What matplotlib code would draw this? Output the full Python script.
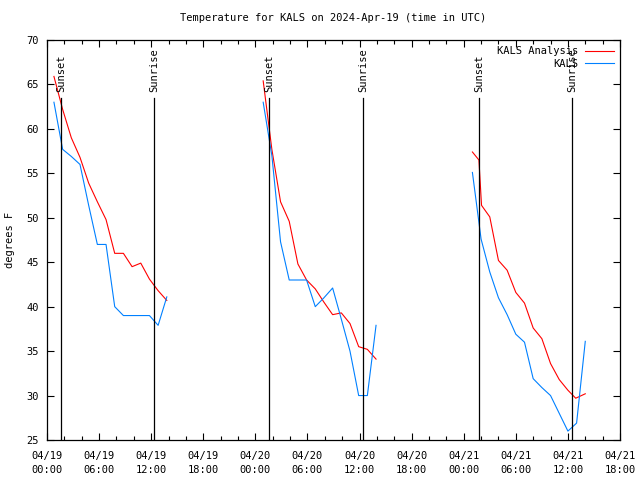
import pandas as pd
import numpy as np
import matplotlib.pyplot as plt
import matplotlib.dates as mdates

plt.rcParams['font.family'] = ['DejaVu Sans Mono']
plt.rcParams['font.size'] = 7

t0 = pd.Timestamp("2024-04-19 00:00")

# hours after 04/19 00:00 UTC, temperatures in deg F
ana_hours = [0.8, 1.8, 2.8, 3.8, 4.8, 5.8, 6.8, 7.8, 8.8, 9.8, 10.8, 11.8, 12.8, 13.8,
             24.9, 25.9, 26.9, 27.9, 28.9, 29.9, 30.9, 31.9, 32.9, 33.9, 34.9, 35.9, 36.9, 37.9,
             49.0, 49.75, 50.05, 51.0, 52.0, 53.0, 54.0, 55.0, 56.0, 57.0, 58.0, 59.0, 60.0, 60.9, 62.0]
ana_temp = [65.9, 62.2, 59.0, 56.8, 53.9, 51.8, 49.8, 46.0, 46.0, 44.5, 44.9, 43.1, 41.8, 40.7,
            65.4, 57.7, 51.8, 49.6, 44.8, 43.0, 42.0, 40.5, 39.1, 39.3, 38.1, 35.5, 35.2, 34.1,
            57.4, 56.5, 51.4, 50.1, 45.2, 44.1, 41.6, 40.4, 37.6, 36.4, 33.6, 31.8, 30.6, 29.7, 30.2]
ana_night = [0] * 14 + [1] * 14 + [2] * 15

obs_hours = [0.8, 1.8, 2.8, 3.8, 4.8, 5.8, 6.8, 7.8, 8.8, 9.8, 10.8, 11.8, 12.8, 13.8,
             24.9, 25.9, 26.9, 27.9, 28.9, 29.9, 30.9, 31.9, 32.9, 33.9, 34.9, 35.9, 36.9, 37.9,
             49.0, 50.0, 51.0, 52.0, 53.0, 54.0, 55.0, 56.0, 57.0, 58.0, 59.0, 60.0, 61.0, 62.0]
obs_temp = [63.0, 57.7, 56.9, 56.0, 51.4, 47.0, 47.0, 40.0, 39.0, 39.0, 39.0, 39.0, 37.9, 41.1,
            63.0, 57.0, 47.3, 43.0, 43.0, 43.0, 40.0, 41.0, 42.1, 38.6, 35.0, 30.0, 30.0, 37.9,
            55.1, 47.6, 43.9, 41.0, 39.1, 36.9, 36.0, 31.9, 30.9, 30.0, 28.0, 26.0, 26.9, 36.1]
obs_night = [0] * 14 + [1] * 14 + [2] * 14

sunset_hours = [1.6, 25.6, 49.8]
sunrise_hours = [12.35, 36.4, 60.45]


def to_time(h):
    return t0 + pd.to_timedelta(np.asarray(h), unit='h')


fig = plt.figure(figsize=(6.4, 4.8), dpi=100)
ax = fig.add_axes([47 / 640, 40 / 480, 573 / 640, 400 / 480])

ana = pd.DataFrame({'t': to_time(ana_hours), 'v': ana_temp, 'n': ana_night})
obs = pd.DataFrame({'t': to_time(obs_hours), 'v': obs_temp, 'n': obs_night})

for n, g in ana.groupby('n'):
    ax.plot(g['t'], g['v'], color='#ff0000', lw=0.8,
            label='KALS Analysis' if n == 0 else None)
for n, g in obs.groupby('n'):
    ax.plot(g['t'], g['v'], color='#0080ff', lw=0.8,
            label='KALS' if n == 0 else None)

for name, hrs in [('Sunset', sunset_hours), ('Sunrise', sunrise_hours)]:
    for t in to_time(hrs):
        ax.plot([t, t], [25, 63.5], color='black', lw=0.9)
        ax.text(t, 64.1, name, rotation=90, ha='center', va='bottom', fontsize=7.5)

ax.set_xlim(t0, t0 + pd.Timedelta(hours=66))
ax.set_ylim(25, 70)
ax.set_yticks(np.arange(25, 71, 5))
ax.xaxis.set_major_locator(mdates.HourLocator(byhour=range(0, 24, 6)))
ax.xaxis.set_minor_locator(mdates.HourLocator(byhour=range(0, 24, 2)))
ax.xaxis.set_major_formatter(mdates.DateFormatter('%m/%d\n%H:%M'))
ax.tick_params(which='both', direction='in', top=True, right=True, labelsize=7.5, pad=6)
ax.tick_params(axis='x', pad=8)
ax.tick_params(which='major', length=5, width=0.8)
ax.tick_params(which='minor', length=3, width=0.8)
for lab in ax.get_xticklabels():
    lab.set_linespacing(1.45)
for s in ax.spines.values():
    s.set_linewidth(0.9)

ax.set_ylabel('degrees F', fontsize=7.5, labelpad=8)
ax.set_title('Temperature for KALS on 2024-Apr-19 (time in UTC)', fontsize=7.5, pad=14)
ax.legend(loc='upper right', frameon=False, fontsize=7.5, markerfirst=False,
          handlelength=2.8, borderaxespad=0.6, borderpad=0.0, labelspacing=0.25,
          handletextpad=0.6)

plt.savefig('out.png', dpi=100)
